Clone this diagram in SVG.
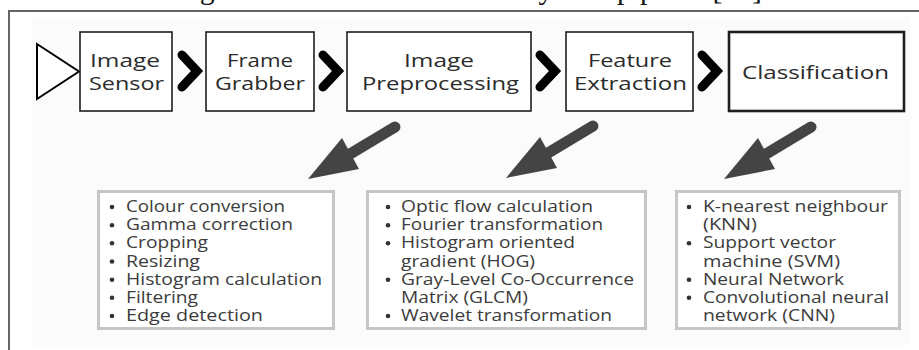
<svg xmlns="http://www.w3.org/2000/svg" width="919" height="350" viewBox="0 0 919 350">
  <style>
    .caption { font-family: "Liberation Serif", serif; font-size: 29px; fill: #111; }
    .ref { fill: #33cc33; }
    .stage rect { fill: #fff; stroke: #1e1e1e; stroke-width: 1.6; }
    .stage text { font-family: "Open Sans", "DejaVu Sans", sans-serif; font-size: 19px; fill: #2b2b2b; }
    .chev { fill: none; stroke: #000; stroke-width: 9; stroke-linecap: round; stroke-linejoin: miter; }
    .list rect { fill: #fff; stroke: #c6c6c6; stroke-width: 3; }
    .list text { font-family: "Open Sans", "DejaVu Sans", sans-serif; font-size: 17px; fill: #3c3c3c; }
    .list circle { fill: #333; }
    .bigarrow { fill: #444; }
    .shaft { stroke: #444; stroke-width: 11; stroke-linecap: round; fill: none; }
  </style>
  <defs>
    <!-- down-left pointing arrow, tip at origin -->
    <g id="downArrow">
      <line class="shaft" x1="42" y1="-25" x2="87" y2="-52"/>
      <polygon class="bigarrow" points="0,0 34,-41 51,-10"/>
    </g>
  </defs>

  <rect x="0" y="0" width="919" height="350" fill="#fff"/>
  <rect x="32" y="17" width="878" height="328" fill="#fbfbfb"/>

  <!-- caption -->
  <text class="caption" x="175" y="-1" textLength="587" lengthAdjust="spacingAndGlyphs">Figure 2.6: Embedded vision system pipeline[<tspan class="ref">36</tspan>]</text>

  <!-- frame -->
  <path d="M9,350 V11 H919" fill="none" stroke="#666" stroke-width="2"/>

  <!-- input marker -->
  <polygon id="input" points="37,44 79,71.5 37,99" fill="#fff" stroke="#000" stroke-width="2"/>

  <g id="image-sensor" class="stage">
    <rect x="80" y="32" width="92" height="79"/>
    <text x="90" y="67" textLength="70" lengthAdjust="spacingAndGlyphs">Image</text>
    <text x="89" y="90" textLength="75" lengthAdjust="spacingAndGlyphs">Sensor</text>
  </g>
  <g id="frame-grabber" class="stage">
    <rect x="206" y="32" width="108" height="79"/>
    <text x="227" y="67" textLength="66" lengthAdjust="spacingAndGlyphs">Frame</text>
    <text x="215" y="90" textLength="90" lengthAdjust="spacingAndGlyphs">Grabber</text>
  </g>
  <g id="image-preprocessing" class="stage">
    <rect x="347" y="32" width="184" height="79"/>
    <text x="404" y="67" textLength="70" lengthAdjust="spacingAndGlyphs">Image</text>
    <text x="362" y="90" textLength="157" lengthAdjust="spacingAndGlyphs">Preprocessing</text>
  </g>
  <g id="feature-extraction" class="stage">
    <rect x="566" y="32" width="127" height="79"/>
    <text x="588" y="67" textLength="84" lengthAdjust="spacingAndGlyphs">Feature</text>
    <text x="574" y="90" textLength="113" lengthAdjust="spacingAndGlyphs">Extraction</text>
  </g>
  <g id="classification" class="stage">
    <rect x="729" y="32" width="175" height="79" style="stroke-width:2.6"/>
    <text x="742" y="79" textLength="147" lengthAdjust="spacingAndGlyphs">Classification</text>
  </g>

  <g id="preprocessing-list" class="list">
    <rect x="98.5" y="191.5" width="235" height="137"/>
    <circle cx="112" cy="207" r="2.3"/><circle cx="112" cy="225.2" r="2.3"/><circle cx="112" cy="243.3" r="2.3"/>
    <circle cx="112" cy="261.5" r="2.3"/><circle cx="112" cy="279.7" r="2.3"/><circle cx="112" cy="297.8" r="2.3"/>
    <circle cx="112" cy="316" r="2.3"/>
    <text x="126" y="212" textLength="159" lengthAdjust="spacingAndGlyphs">Colour conversion</text>
    <text x="126" y="230.2" textLength="167" lengthAdjust="spacingAndGlyphs">Gamma correction</text>
    <text x="126" y="248.3" textLength="82" lengthAdjust="spacingAndGlyphs">Cropping</text>
    <text x="126" y="266.5" textLength="74" lengthAdjust="spacingAndGlyphs">Resizing</text>
    <text x="126" y="284.7" textLength="196" lengthAdjust="spacingAndGlyphs">Histogram calculation</text>
    <text x="126" y="302.8" textLength="72" lengthAdjust="spacingAndGlyphs">Filtering</text>
    <text x="126" y="321" textLength="137" lengthAdjust="spacingAndGlyphs">Edge detection</text>
  </g>

  <g id="feature-list" class="list">
    <rect x="367.5" y="191.5" width="278" height="137"/>
    <circle cx="388" cy="207" r="2.3"/><circle cx="388" cy="225.2" r="2.3"/><circle cx="388" cy="243.3" r="2.3"/>
    <circle cx="388" cy="279.7" r="2.3"/><circle cx="388" cy="316" r="2.3"/>
    <text x="401" y="212" textLength="192" lengthAdjust="spacingAndGlyphs">Optic flow calculation</text>
    <text x="401" y="230.2" textLength="202" lengthAdjust="spacingAndGlyphs">Fourier transformation</text>
    <text x="401" y="248.3" textLength="174" lengthAdjust="spacingAndGlyphs">Histogram oriented</text>
    <text x="401" y="266.5" textLength="134" lengthAdjust="spacingAndGlyphs">gradient (HOG)</text>
    <text x="401" y="284.7" textLength="233" lengthAdjust="spacingAndGlyphs">Gray-Level Co-Occurrence</text>
    <text x="401" y="302.8" textLength="127" lengthAdjust="spacingAndGlyphs">Matrix (GLCM)</text>
    <text x="401" y="321" textLength="211" lengthAdjust="spacingAndGlyphs">Wavelet transformation</text>
  </g>

  <g id="classifier-list" class="list">
    <rect x="676.5" y="191.5" width="223" height="137"/>
    <circle cx="689" cy="207" r="2.3"/><circle cx="689" cy="243.3" r="2.3"/>
    <circle cx="689" cy="279.7" r="2.3"/><circle cx="689" cy="297.8" r="2.3"/>
    <text x="703" y="212" textLength="185" lengthAdjust="spacingAndGlyphs">K-nearest neighbour</text>
    <text x="703" y="230.2" textLength="54" lengthAdjust="spacingAndGlyphs">(KNN)</text>
    <text x="703" y="248.3" textLength="133" lengthAdjust="spacingAndGlyphs">Support vector</text>
    <text x="703" y="266.5" textLength="137" lengthAdjust="spacingAndGlyphs">machine (SVM)</text>
    <text x="703" y="284.7" textLength="141" lengthAdjust="spacingAndGlyphs">Neural Network</text>
    <text x="703" y="302.8" textLength="186" lengthAdjust="spacingAndGlyphs">Convolutional neural</text>
    <text x="703" y="321" textLength="132" lengthAdjust="spacingAndGlyphs">network (CNN)</text>
  </g>

  <g id="connectors">
    <path class="chev" d="M182,55 L197,71 L182,87"/>
    <path class="chev" d="M323,55 L338,71 L323,87"/>
    <path class="chev" d="M540,55 L555,71 L540,87"/>
    <path class="chev" d="M702,55 L717,71 L702,87"/>
    <use href="#downArrow" x="308" y="179"/>
    <use href="#downArrow" x="506" y="178"/>
    <use href="#downArrow" x="724" y="179"/>
  </g>
</svg>
